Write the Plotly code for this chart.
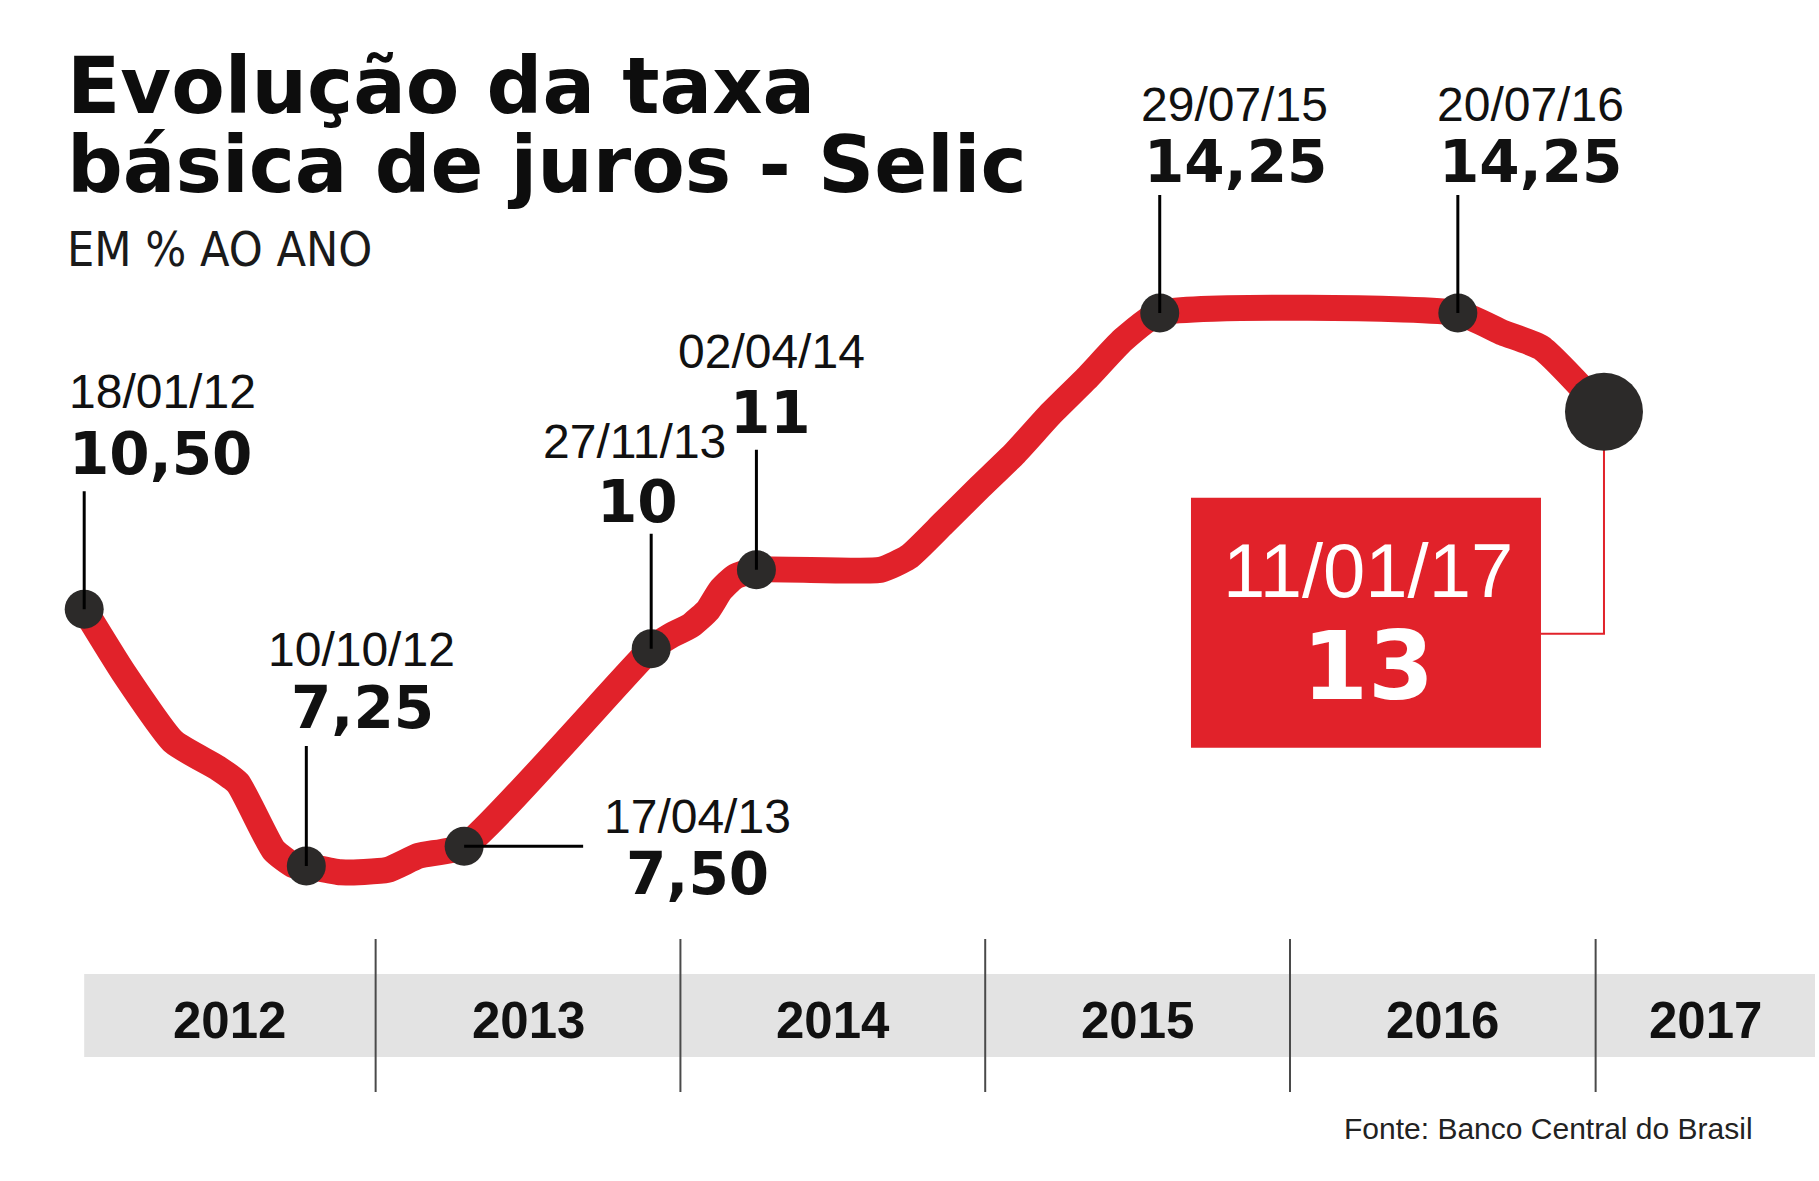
import plotly.graph_objects as go
from datetime import datetime, timedelta

# ---------------- data ----------------
path_dates = [
    "2012-01-18", "2012-03-05", "2012-05-04", "2012-06-26", "2012-07-20",
    "2012-09-01", "2012-09-25", "2012-10-10", "2012-11-20", "2013-01-15",
    "2013-02-22", "2013-04-17", "2013-11-27", "2013-12-18", "2014-01-14",
    "2014-02-03", "2014-02-18", "2014-03-07", "2014-04-02", "2014-08-29",
    "2014-10-01", "2014-11-12", "2014-12-26", "2015-02-06", "2015-03-21",
    "2015-05-04", "2015-06-15", "2015-07-29", "2016-07-20", "2016-09-12",
    "2016-10-28", "2017-01-11",
]
path_values = [
    10.5, 9.7, 8.82, 8.49, 8.3,
    7.45, 7.26, 7.25, 7.17, 7.2,
    7.38, 7.5, 10.0, 10.15, 10.3,
    10.49, 10.74, 10.91, 11.0, 11.0,
    11.16, 11.59, 12.05, 12.48, 12.98,
    13.44, 13.91, 14.25, 14.25, 14.0,
    13.81, 13.0,
]

key_dates = ["2012-01-18", "2012-10-10", "2013-04-17", "2013-11-27",
             "2014-04-02", "2015-07-29", "2016-07-20", "2017-01-11"]
key_values = [10.5, 7.25, 7.5, 10.0, 11.0, 14.25, 14.25, 13.0]
key_date_text = ["18/01/12", "10/10/12", "17/04/13", "27/11/13",
                 "02/04/14", "29/07/15", "20/07/16", "11/01/17"]
key_value_text = ["10,50", "7,25", "7,50", "10", "11", "14,25", "14,25", "13"]

years = [2012, 2013, 2014, 2015, 2016, 2017]
year_labels = ["2012", "2013", "2014", "2015", "2016", "2017"]

title_lines = ["Evolução da taxa", "básica de juros - Selic"]
subtitle = "EM % AO ANO"
source = "Fonte: Banco Central do Brasil"

# ---------------- layout / style ----------------
W, H = 1819, 1181
RED = "#e1222a"
DOT = "#2c2a29"
BAND = "#e3e3e3"
INK = "#111111"

PX0, PXY = 70, 305              # pixel of 2012-01-01, pixels per year
Y_TOP, PY_TOP, PPU = 14.25, 313, 79


def px_to_date(px):
    return datetime(2012, 1, 1) + timedelta(days=(px - PX0) / PXY * 365.25)


x_range = [px_to_date(0), px_to_date(W)]
y_range = [Y_TOP - (H - PY_TOP) / PPU, Y_TOP + PY_TOP / PPU]

# label offsets (pixels, up = positive) for the 7 callouts
label_layout = [
    dict(xa="left",   dd=(-17, 218), vd=(-17, 155), lead=(0, 118)),
    dict(xa="center", dd=(55, 217),  vd=(56, 158),  lead=(0, 120)),
    dict(xa="center", dd=(233, 30),  vd=(233, -28), lead=(119, 0)),
    dict(xa="center", dd=(-17, 207), vd=(-14, 147), lead=(0, 115)),
    dict(xa="center", dd=(15, 218),  vd=(14, 157),  lead=(0, 120)),
    dict(xa="center", dd=(75, 209),  vd=(76, 151),  lead=(0, 118)),
    dict(xa="center", dd=(73, 209),  vd=(73, 151),  lead=(0, 118)),
]

DATE_FONT = dict(family="Liberation Sans, Arial, sans-serif", size=48, color=INK)
VAL_FONT = dict(family="DejaVu Sans, sans-serif", size=58, color=INK, weight="bold")

fig = go.Figure()

fig.add_trace(go.Scatter(
    x=path_dates, y=path_values, mode="lines",
    line=dict(color=RED, width=26, shape="spline", smoothing=0.5),
    hoverinfo="skip", cliponaxis=False,
))
fig.add_trace(go.Scatter(
    x=key_dates[:-1], y=key_values[:-1], mode="markers",
    marker=dict(color=DOT, size=39, line=dict(width=0)),
    hoverinfo="skip", cliponaxis=False,
))
fig.add_trace(go.Scatter(
    x=key_dates[-1:], y=key_values[-1:], mode="markers",
    marker=dict(color=DOT, size=78, line=dict(width=0)),
    hoverinfo="skip", cliponaxis=False,
))

shapes = []
annotations = []

# year band
band_start = datetime.strptime(key_dates[0], "%Y-%m-%d")
band_end = px_to_date(1815)
BAND_Y0, BAND_Y1 = 1 - 1057 / H, 1 - 974 / H
DIV_Y0, DIV_Y1 = 1 - 1092 / H, 1 - 939 / H
shapes.append(dict(type="rect", xref="x", yref="paper", x0=band_start, x1=band_end,
                   y0=BAND_Y0, y1=BAND_Y1, fillcolor=BAND, line=dict(width=0), layer="below"))
for yr in years[1:]:
    shapes.append(dict(type="line", xref="x", yref="paper",
                       x0=datetime(yr, 1, 1), x1=datetime(yr, 1, 1),
                       y0=DIV_Y0, y1=DIV_Y1, line=dict(color="#4a4a4a", width=2), layer="below"))
for yr, lab in zip(years, year_labels):
    s = max(datetime(yr, 1, 1), band_start)
    e = min(datetime(yr + 1, 1, 1), band_end)
    mid = s + (e - s) / 2
    annotations.append(dict(x=mid, y=1 - 1020.5 / H, xref="x", yref="paper", text=lab,
                            showarrow=False, xanchor="center", yanchor="middle",
                            font=dict(family="Liberation Sans, Arial, sans-serif", size=51,
                                      color=INK, weight="bold")))

# callouts
for i, lay in enumerate(label_layout):
    d, v = key_dates[i], key_values[i]
    lx, ly = lay["lead"]
    shapes.append(dict(type="line", xref="x", yref="y", xsizemode="pixel", ysizemode="pixel",
                       xanchor=d, yanchor=v, x0=0, y0=0, x1=lx, y1=ly,
                       line=dict(color="#000000", width=3), layer="above"))
    annotations.append(dict(x=d, y=v, xref="x", yref="y", text=key_date_text[i],
                            showarrow=False, xanchor=lay["xa"], yanchor="middle",
                            xshift=lay["dd"][0], yshift=lay["dd"][1], font=DATE_FONT))
    annotations.append(dict(x=d, y=v, xref="x", yref="y", text=key_value_text[i],
                            showarrow=False, xanchor=lay["xa"], yanchor="middle",
                            xshift=lay["vd"][0], yshift=lay["vd"][1], font=VAL_FONT))

# final value box
fd, fv = key_dates[-1], key_values[-1]
shapes.append(dict(type="path", xref="x", yref="y", xsizemode="pixel", ysizemode="pixel",
                   xanchor=fd, yanchor=fv, path="M 0,0 L 0,-222 L -63,-222",
                   line=dict(color=RED, width=2), layer="below"))
shapes.append(dict(type="rect", xref="x", yref="y", xsizemode="pixel", ysizemode="pixel",
                   xanchor=fd, yanchor=fv, x0=-413, x1=-63, y0=-86, y1=-336,
                   fillcolor=RED, line=dict(width=0), layer="above"))
annotations.append(dict(x=fd, y=fv, xref="x", yref="y", text=key_date_text[-1], showarrow=False,
                        xanchor="center", yanchor="middle", xshift=-236, yshift=-159,
                        font=dict(family="Liberation Sans, Arial, sans-serif", size=76,
                                  color="#ffffff")))
annotations.append(dict(x=fd, y=fv, xref="x", yref="y", text=key_value_text[-1], showarrow=False,
                        xanchor="center", yanchor="middle", xshift=-236, yshift=-254,
                        font=dict(family="DejaVu Sans, sans-serif", size=95, color="#ffffff",
                                  weight="bold")))

# titles
TITLE_FONT = dict(family="DejaVu Sans, sans-serif", size=78, color="#0d0d0d", weight="bold")
annotations.append(dict(x=65 / W, y=1 - 85.5 / H, xref="paper", yref="paper", text=title_lines[0],
                        showarrow=False, xanchor="left", yanchor="middle", font=TITLE_FONT))
annotations.append(dict(x=65 / W, y=1 - 165.5 / H, xref="paper", yref="paper", text=title_lines[1],
                        showarrow=False, xanchor="left", yanchor="middle", font=TITLE_FONT))
annotations.append(dict(x=65 / W, y=1 - 249 / H, xref="paper", yref="paper", text=subtitle,
                        showarrow=False, xanchor="left", yanchor="middle",
                        font=dict(family="DejaVu Sans Condensed, Liberation Sans Narrow, sans-serif",
                                  size=48, color="#1a1a1a")))
annotations.append(dict(x=1755 / W, y=1 - 1128 / H, xref="paper", yref="paper", text=source,
                        showarrow=False, xanchor="right", yanchor="middle",
                        font=dict(family="Liberation Sans, Arial, sans-serif", size=30, color="#222222")))

fig.update_layout(
    width=W, height=H, autosize=False,
    margin=dict(l=0, r=0, t=0, b=0, pad=0, autoexpand=False),
    paper_bgcolor="#ffffff", plot_bgcolor="#ffffff",
    showlegend=False,
    xaxis=dict(type="date", range=x_range, visible=False, showgrid=False, zeroline=False, fixedrange=True),
    yaxis=dict(range=y_range, visible=False, showgrid=False, zeroline=False, fixedrange=True),
    shapes=shapes, annotations=annotations,
)

fig.write_html("out.html", config={"displayModeBar": False},
               post_script="document.body.style.margin='0px';document.body.style.padding='0px';"
                           "document.body.style.overflow='hidden';")
